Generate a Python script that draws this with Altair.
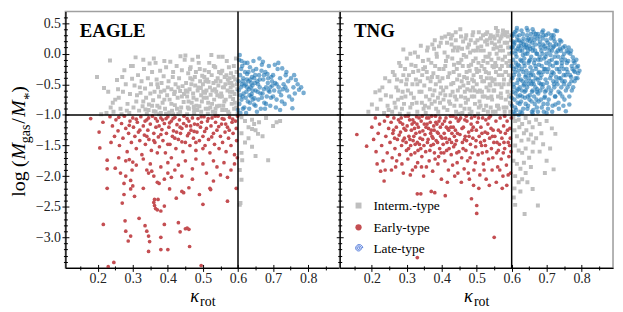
import altair as alt
import pandas as pd

# ---------------- values (kappa_rot, log Mgas/M*) ----------------
eagle_interm = [
    (0.198, -0.38), (0.218, -0.56), (0.23, -0.62), (0.235, -0.11), (0.237, -0.88), (0.225, -0.97), (0.245, -0.95),
    (0.25, -0.75), (0.243, -0.8), (0.21, -0.99),
    (0.255, -0.43), (0.27, -0.38), (0.26, -0.72), (0.265, -0.9), (0.272, -0.62), (0.28, -0.5), (0.285, -0.82),
    (0.29, -0.97), (0.258, -0.58), (0.276, -0.27), (0.292, -0.66), (0.298, -0.41), (0.283, -0.93), (0.295, -0.2),
    (0.268, -0.99),
    (0.3, -0.2), (0.308, -0.06), (0.33, -0.1), (0.305, -0.52), (0.31, -0.78), (0.315, -0.35), (0.318, -0.93),
    (0.322, -0.64), (0.325, -0.45), (0.328, -0.86), (0.332, -0.25), (0.335, -0.57), (0.338, -0.72), (0.34, -0.98),
    (0.343, -0.4), (0.346, -0.83), (0.348, -0.16), (0.312, -0.68), (0.336, -0.91), (0.302, -0.88),
    (0.352, -0.5), (0.355, -0.3), (0.358, -0.76), (0.36, -0.94), (0.362, -0.62), (0.365, -0.15), (0.368, -0.42),
    (0.37, -0.85), (0.372, -0.55), (0.375, -0.7), (0.378, -0.28), (0.38, -0.97), (0.382, -0.48), (0.385, -0.8),
    (0.388, -0.37), (0.39, -0.6), (0.392, -0.9), (0.395, -0.22), (0.398, -0.68), (0.36, -0.08), (0.376, -0.88),
    (0.39, -0.12),
    (0.402, -0.45), (0.405, -0.75), (0.407, -0.13), (0.41, -0.58), (0.412, -0.93), (0.415, -0.3), (0.418, -0.66),
    (0.42, -0.84), (0.422, -0.5), (0.425, -0.2), (0.428, -0.72), (0.43, -0.98), (0.432, -0.4), (0.435, -0.61),
    (0.438, -0.88), (0.44, -0.27), (0.442, -0.53), (0.445, -0.79), (0.448, -0.1), (0.414, -0.38), (0.426, -0.9),
    (0.436, -0.04), (0.446, -0.66), (0.404, -0.96),
    (0.45, -0.03), (0.47, -0.1), (0.452, -0.48), (0.455, -0.7), (0.458, -0.32), (0.46, -0.9), (0.462, -0.58),
    (0.465, -0.22), (0.468, -0.8), (0.47, -0.42), (0.472, -0.65), (0.475, -0.97), (0.478, -0.52), (0.48, -0.3),
    (0.482, -0.75), (0.485, -0.6), (0.488, -0.15), (0.49, -0.86), (0.492, -0.45), (0.495, -0.68), (0.498, -0.36),
    (0.456, -0.62), (0.464, -0.4), (0.474, -0.87), (0.484, -0.92), (0.494, -0.56), (0.459, -0.78), (0.486, -0.05),
    (0.5, -0.5), (0.502, -0.72), (0.505, -0.27), (0.508, -0.9), (0.51, -0.6), (0.512, -0.42), (0.515, -0.8),
    (0.518, -0.15), (0.52, -0.55), (0.522, -0.67), (0.525, -0.35), (0.528, -0.95), (0.53, -0.48), (0.532, -0.75),
    (0.535, -0.22), (0.538, -0.62), (0.54, -0.86), (0.542, -0.4), (0.545, -0.05), (0.548, -0.7), (0.504, -0.38),
    (0.514, -0.98), (0.524, -0.02), (0.534, -0.58), (0.544, -0.52), (0.506, -0.64), (0.526, -0.82), (0.546, -0.3),
    (0.516, -0.46), (0.536, -0.9),
    (0.55, -0.45), (0.552, -0.65), (0.555, -0.28), (0.558, -0.85), (0.56, -0.55), (0.562, -0.38), (0.565, -0.75),
    (0.568, -0.12), (0.57, -0.6), (0.572, -0.95), (0.575, -0.48), (0.578, -0.7), (0.58, -0.32), (0.582, -0.82),
    (0.585, -0.52), (0.588, -0.2), (0.59, -0.66), (0.592, -0.42), (0.595, -0.88), (0.598, -0.58), (0.556, -0.05),
    (0.566, -0.92), (0.576, -0.4), (0.586, -0.74), (0.596, -0.3), (0.554, -0.7), (0.564, -0.5), (0.574, -0.22),
    (0.584, -0.62), (0.594, -0.08), (0.599, -0.98), (0.589, -0.9), (0.579, -0.55),
    (0.451, -0.6), (0.457, -0.88), (0.463, -0.25), (0.467, -0.5), (0.473, -0.72), (0.477, -0.38), (0.481, -0.85),
    (0.487, -0.55), (0.491, -0.25), (0.497, -0.78), (0.501, -0.62), (0.507, -0.45), (0.511, -0.72), (0.517, -0.3),
    (0.521, -0.88), (0.527, -0.6), (0.531, -0.2), (0.537, -0.45), (0.541, -0.68), (0.547, -0.85), (0.551, -0.32),
    (0.557, -0.55), (0.561, -0.78), (0.567, -0.35), (0.571, -0.42), (0.577, -0.62), (0.581, -0.48), (0.587, -0.38),
    (0.591, -0.8), (0.597, -0.5), (0.42, -0.62), (0.43, -0.55), (0.44, -0.7), (0.41, -0.82), (0.4, -0.55),
    (0.39, -0.75), (0.38, -0.62), (0.37, -0.5), (0.35, -0.65), (0.33, -0.78), (0.32, -0.55), (0.345, -0.92),
    (0.355, -0.85), (0.365, -0.95), (0.375, -0.99), (0.395, -0.98), (0.415, -0.99), (0.435, -0.95), (0.455, -0.99),
    (0.475, -0.92), (0.495, -0.95), (0.515, -0.9), (0.535, -0.97), (0.555, -0.92), (0.575, -0.98),
    # below the gas cut, above the kappa cut
    (0.61, -1.04), (0.62, -1.1), (0.64, -1.08), (0.66, -1.12), (0.68, -1.05), (0.63, -1.2), (0.65, -1.25),
    (0.61, -1.3), (0.7, -1.18), (0.62, -1.45), (0.64, -1.52), (0.61, -1.62), (0.65, -1.67), (0.686, -1.74),
    (0.612, -1.74), (0.63, -1.38), (0.605, -1.9), (0.61, -2.06), (0.605, -2.47), (0.607, -2.44), (0.67, -1.35),
    (0.72, -1.1), (0.646, -1.15), (0.71, -1.12), (0.64, -1.23), (0.657, -1.31),
]

eagle_early = [
    (0.18, -1.06), (0.204, -1.28), (0.206, -1.54), (0.215, -1.12),
    (0.235, -1.03), (0.242, -1.18), (0.248, -1.35), (0.238, -1.45), (0.252, -1.08), (0.258, -1.26), (0.262, -1.5),
    (0.268, -1.14), (0.272, -1.38), (0.276, -1.02), (0.28, -1.22), (0.284, -1.6), (0.288, -1.3), (0.292, -1.1),
    (0.296, -1.45), (0.3, -1.05),
    (0.302, -1.2), (0.306, -1.35), (0.31, -1.55), (0.313, -1.12), (0.316, -1.28), (0.32, -1.42), (0.323, -1.03),
    (0.326, -1.65), (0.33, -1.18), (0.333, -1.33), (0.336, -1.48), (0.34, -1.08), (0.343, -1.25), (0.346, -1.4),
    (0.35, -1.15), (0.353, -1.58), (0.356, -1.02), (0.36, -1.3), (0.363, -1.45), (0.366, -1.2), (0.37, -1.1),
    (0.373, -1.36), (0.376, -1.52), (0.38, -1.05), (0.383, -1.24), (0.386, -1.42), (0.39, -1.14), (0.393, -1.62),
    (0.396, -1.3), (0.4, -1.03),
    (0.403, -1.2), (0.406, -1.48), (0.41, -1.1), (0.413, -1.35), (0.416, -1.26), (0.42, -1.04), (0.423, -1.55),
    (0.426, -1.16), (0.43, -1.4), (0.433, -1.08), (0.436, -1.3), (0.44, -1.22), (0.443, -1.6), (0.446, -1.02),
    (0.45, -1.45), (0.453, -1.18), (0.456, -1.34), (0.46, -1.1), (0.463, -1.5), (0.466, -1.25), (0.47, -1.05),
    (0.473, -1.38), (0.476, -1.15), (0.48, -1.58), (0.483, -1.28), (0.486, -1.06), (0.49, -1.42), (0.493, -1.2),
    (0.496, -1.12), (0.5, -1.35),
    (0.503, -1.03), (0.506, -1.5), (0.51, -1.22), (0.513, -1.1), (0.516, -1.4), (0.52, -1.62), (0.523, -1.18),
    (0.526, -1.05), (0.53, -1.3), (0.533, -1.48), (0.536, -1.12), (0.54, -1.25), (0.543, -1.02), (0.546, -1.55),
    (0.55, -1.35), (0.553, -1.15), (0.556, -1.45), (0.56, -1.07), (0.563, -1.28), (0.566, -1.6), (0.57, -1.2),
    (0.573, -1.38), (0.576, -1.04), (0.58, -1.5), (0.583, -1.12), (0.586, -1.3), (0.59, -1.65), (0.593, -1.1),
    (0.596, -1.42), (0.599, -1.02),
    (0.26, -1.04), (0.29, -1.17), (0.31, -1.07), (0.335, -1.1), (0.345, -1.05), (0.365, -1.06), (0.375, -1.18),
    (0.385, -1.08), (0.395, -1.06), (0.405, -1.13), (0.415, -1.06), (0.425, -1.28), (0.435, -1.2), (0.445, -1.14),
    (0.455, -1.06), (0.465, -1.18), (0.475, -1.27), (0.485, -1.16), (0.495, -1.03), (0.505, -1.27), (0.515, -1.06),
    (0.525, -1.36), (0.535, -1.02), (0.545, -1.19), (0.555, -1.06), (0.565, -1.15), (0.575, -1.25), (0.585, -1.07),
    (0.595, -1.22), (0.32, -1.25), (0.34, -1.35), (0.36, -1.42), (0.38, -1.32), (0.4, -1.48), (0.42, -1.38),
    (0.44, -1.44), (0.46, -1.3), (0.48, -1.45), (0.5, -1.55), (0.37, -1.62), (0.41, -1.7), (0.33, -1.72),
    (0.227, -1.74), (0.227, -1.88), (0.25, -1.87), (0.227, -2.2), (0.28, -1.75), (0.29, -1.73), (0.3, -1.77),
    (0.298, -1.9), (0.275, -2.12), (0.294, -2.21), (0.294, -2.07), (0.305, -2.33), (0.3, -2.16), (0.33, -2.2),
    (0.34, -1.9), (0.345, -1.95), (0.354, -1.92), (0.37, -2.1), (0.375, -2.12), (0.39, -2.05), (0.405, -2.21),
    (0.424, -2.36), (0.44, -2.25), (0.445, -2.27), (0.46, -2.19), (0.49, -2.3), (0.52, -2.2), (0.522, -2.22),
    (0.595, -2.2), (0.57, -2.41), (0.5, -2.46),
    (0.31, -1.82), (0.35, -1.8), (0.38, -1.85), (0.4, -1.78), (0.42, -1.9), (0.43, -1.82), (0.45, -1.75),
    (0.47, -1.88), (0.48, -1.72), (0.5, -1.8), (0.51, -1.95), (0.53, -1.75), (0.54, -1.85), (0.55, -1.98),
    (0.56, -1.78), (0.58, -1.9), (0.59, -1.8), (0.598, -1.7), (0.36, -2.0), (0.41, -2.02), (0.44, -2.0),
    (0.47, -2.05), (0.53, -2.08), (0.57, -2.02), (0.4, -1.95), (0.26, -1.7), (0.265, -1.95), (0.28, -2.0),
    (0.216, -2.79), (0.27, -2.44), (0.275, -2.3), (0.278, -2.73), (0.28, -2.9), (0.287, -3.06), (0.294, -2.98),
    (0.23, -3.48), (0.246, -3.41), (0.318, -2.69), (0.335, -2.81), (0.34, -2.9), (0.345, -2.98), (0.348, -3.07),
    (0.345, -3.23), (0.36, -2.43), (0.362, -2.48), (0.365, -2.53), (0.37, -2.55), (0.362, -2.38), (0.372, -2.38),
    (0.38, -2.57), (0.39, -2.49), (0.39, -2.79), (0.38, -3.0), (0.38, -3.2), (0.4, -3.2), (0.43, -2.76),
    (0.435, -2.91), (0.45, -2.86), (0.455, -2.85), (0.46, -2.87), (0.462, -3.15), (0.495, -3.46),
]

eagle_late = [
    (0.603, -0.1), (0.605, -0.02), (0.606, -0.35), (0.608, -0.55), (0.61, -0.75), (0.612, -0.2), (0.614, -0.45),
    (0.616, -0.65), (0.618, -0.88), (0.62, -0.3), (0.602, -0.6), (0.604, -0.82), (0.607, -0.97), (0.611, -0.5),
    (0.615, -0.4), (0.619, -0.15), (0.613, -0.7), (0.609, -0.25),
    (0.622, -0.5), (0.624, -0.62), (0.626, -0.33), (0.628, -0.78), (0.63, -0.45), (0.632, -0.9), (0.634, -0.22),
    (0.636, -0.55), (0.638, -0.7), (0.64, -0.38), (0.642, -0.6), (0.644, -0.12), (0.646, -0.83), (0.648, -0.48),
    (0.623, -0.97), (0.627, -0.15), (0.631, -0.58), (0.635, -0.42), (0.639, -0.66), (0.643, -0.28), (0.647, -0.73),
    (0.625, -0.42), (0.633, -0.68), (0.641, -0.52), (0.649, -0.35),
    (0.65, -0.6), (0.652, -0.25), (0.655, -0.45), (0.658, -0.75), (0.66, -0.35), (0.662, -0.55), (0.665, -0.9),
    (0.668, -0.18), (0.67, -0.65), (0.672, -0.42), (0.675, -0.8), (0.678, -0.3), (0.68, -0.55), (0.682, -0.7),
    (0.685, -0.48), (0.688, -0.2), (0.69, -0.62), (0.692, -0.85), (0.695, -0.38), (0.698, -0.52), (0.654, -0.95),
    (0.664, -0.65), (0.674, -0.58), (0.684, -0.33), (0.694, -0.72), (0.657, -0.5), (0.667, -0.28), (0.677, -0.9),
    (0.687, -0.6), (0.697, -0.45), (0.661, -0.08), (0.671, -0.13),
    (0.7, -0.35), (0.703, -0.6), (0.706, -0.48), (0.71, -0.75), (0.713, -0.25), (0.716, -0.55), (0.72, -0.4),
    (0.723, -0.68), (0.726, -0.24), (0.73, -0.5), (0.733, -0.82), (0.736, -0.35), (0.74, -0.6), (0.743, -0.45),
    (0.746, -0.7), (0.72, -0.92), (0.708, -0.88), (0.715, -0.15), (0.728, -0.58), (0.738, -0.3), (0.705, -0.18),
    (0.751, -0.4), (0.755, -0.89), (0.758, -0.55), (0.762, -0.65), (0.765, -0.43), (0.77, -0.5), (0.774, -0.59),
    (0.787, -0.64), (0.78, -0.55), (0.76, -0.35), (0.754, -0.75),
    (0.602, -0.45), (0.606, -0.68), (0.61, -0.12), (0.614, -0.9), (0.618, -0.52), (0.622, -0.72), (0.626, -0.55),
    (0.63, -0.3), (0.634, -0.8), (0.638, -0.48), (0.642, -0.75), (0.646, -0.4), (0.65, -0.85), (0.656, -0.62),
    (0.662, -0.42), (0.668, -0.72), (0.674, -0.35), (0.68, -0.82), (0.686, -0.4), (0.692, -0.55), (0.7, -0.7),
    (0.71, -0.5), (0.718, -0.62), (0.725, -0.78), (0.735, -0.55), (0.6, -0.92),
]

tng_interm = [
    (0.2, -0.83), (0.21, -0.63), (0.19, -0.95), (0.215, -0.9), (0.225, -0.75), (0.23, -0.55), (0.235, -0.97),
    (0.24, -0.68), (0.245, -0.85), (0.25, -0.45), (0.222, -0.6), (0.238, -0.4), (0.248, -0.92),
    (0.255, -0.7), (0.26, -0.3), (0.265, -0.35), (0.268, -0.88), (0.27, -0.55), (0.275, -0.75), (0.278, -0.15),
    (0.28, -0.98), (0.284, -0.45), (0.288, -0.62), (0.29, 0.07), (0.292, -0.82), (0.295, -0.25), (0.298, -0.5),
    (0.258, -0.95), (0.272, -0.42), (0.282, -0.2), (0.286, -0.9), (0.296, -0.7),
    (0.3, -0.08), (0.303, -0.6), (0.306, -0.35), (0.31, -0.88), (0.313, -0.18), (0.316, -0.5), (0.32, -0.72),
    (0.323, 0.02), (0.326, -0.42), (0.33, -0.95), (0.333, -0.28), (0.336, -0.62), (0.34, 0.13), (0.343, -0.8),
    (0.346, -0.12), (0.35, -0.52), (0.305, -0.98), (0.318, -0.3), (0.328, -0.8), (0.338, -0.45), (0.348, -0.9),
    (0.312, -0.65), (0.332, -0.05), (0.344, -0.35),
    (0.352, -0.22), (0.355, -0.7), (0.358, 0.05), (0.36, -0.4), (0.363, -0.88), (0.366, -0.58), (0.37, -0.15),
    (0.373, 0.15), (0.376, -0.32), (0.38, -0.78), (0.383, -0.5), (0.386, -0.05), (0.39, -0.95), (0.393, -0.25),
    (0.396, -0.65), (0.4, 0.26), (0.354, -0.97), (0.362, -0.1), (0.368, -0.45), (0.374, -0.68), (0.378, 0.08),
    (0.384, -0.9), (0.388, -0.38), (0.392, 0.12), (0.398, -0.55), (0.357, -0.3), (0.371, -0.82), (0.381, -0.2),
    (0.395, -0.8),
    (0.402, -0.4), (0.405, -0.75), (0.408, 0.02), (0.41, -0.2), (0.413, -0.55), (0.416, -0.92), (0.42, 0.32),
    (0.422, -0.32), (0.425, -0.68), (0.428, 0.15), (0.43, -0.08), (0.433, -0.48), (0.436, -0.85), (0.44, 0.22),
    (0.443, -0.25), (0.446, -0.6), (0.449, -0.98), (0.404, -0.6), (0.412, -0.12), (0.418, -0.38), (0.424, -0.82),
    (0.432, 0.05), (0.438, -0.7), (0.444, -0.42), (0.448, 0.1), (0.406, -0.88), (0.415, 0.18), (0.427, -0.5),
    (0.435, -0.18), (0.441, -0.95), (0.447, -0.15),
    (0.45, -0.35), (0.453, 0.4), (0.455, -0.7), (0.458, 0.08), (0.46, -0.2), (0.462, -0.52), (0.465, -0.9),
    (0.468, 0.25), (0.47, -0.05), (0.472, -0.4), (0.475, -0.75), (0.478, 0.15), (0.48, -0.28), (0.482, -0.6),
    (0.485, -0.95), (0.488, 0.3), (0.49, -0.12), (0.492, -0.45), (0.495, -0.82), (0.498, 0.05), (0.452, -0.55),
    (0.456, -0.1), (0.461, 0.2), (0.466, -0.62), (0.471, -0.3), (0.476, -0.48), (0.481, 0.02), (0.486, -0.7),
    (0.491, -0.35), (0.496, 0.18), (0.454, -0.85), (0.464, -0.38), (0.474, 0.1), (0.484, -0.18), (0.494, -0.6),
    (0.459, -0.97), (0.469, -0.8), (0.479, -0.9), (0.489, -0.55), (0.499, -0.25),
    (0.5, -0.5), (0.502, 0.22), (0.505, -0.15), (0.508, -0.78), (0.51, 0.05), (0.512, -0.38), (0.515, -0.62),
    (0.518, 0.3), (0.52, -0.92), (0.522, -0.25), (0.525, -0.05), (0.528, -0.55), (0.53, 0.15), (0.532, -0.72),
    (0.535, -0.32), (0.538, 0.25), (0.54, -0.88), (0.542, -0.1), (0.545, -0.45), (0.548, 0.08), (0.504, -0.98),
    (0.507, -0.28), (0.513, 0.12), (0.517, -0.7), (0.521, -0.45), (0.524, 0.2), (0.527, -0.85), (0.531, -0.15),
    (0.534, -0.6), (0.537, 0.0), (0.541, -0.4), (0.544, -0.75), (0.547, 0.28), (0.549, -0.22), (0.503, -0.62),
    (0.511, -0.85), (0.519, -0.12), (0.529, -0.4), (0.539, -0.52), (0.546, -0.95), (0.506, 0.35), (0.526, 0.32),
    (0.543, 0.18),
    (0.55, -0.6), (0.552, 0.15), (0.555, -0.3), (0.558, -0.85), (0.56, 0.37), (0.562, -0.08), (0.565, -0.5),
    (0.568, 0.25), (0.57, -0.72), (0.572, -0.2), (0.575, 0.05), (0.578, -0.42), (0.58, -0.95), (0.582, 0.3),
    (0.585, -0.15), (0.588, -0.62), (0.59, 0.1), (0.592, -0.35), (0.595, -0.8), (0.598, 0.22), (0.551, -0.42),
    (0.554, -0.95), (0.557, 0.0), (0.561, -0.7), (0.564, 0.2), (0.567, -0.25), (0.571, -0.55), (0.574, 0.32),
    (0.577, -0.88), (0.581, -0.05), (0.584, -0.3), (0.587, 0.18), (0.591, -0.5), (0.594, -0.12), (0.597, -0.68),
    (0.599, -0.4), (0.553, -0.15), (0.563, -0.9), (0.573, -0.35), (0.583, -0.75), (0.593, 0.0), (0.596, -0.95),
    (0.559, 0.3), (0.569, 0.12), (0.579, 0.35), (0.589, 0.28),
    (0.405, -0.25), (0.41, -0.68), (0.417, -0.05), (0.421, -0.78), (0.426, 0.25), (0.431, -0.62), (0.434, -0.3),
    (0.437, 0.1), (0.442, -0.75), (0.445, 0.05), (0.451, -0.15), (0.455, 0.28), (0.457, -0.45), (0.463, -0.02),
    (0.467, -0.72), (0.47, 0.3), (0.473, -0.58), (0.477, -0.2), (0.48, -0.98), (0.483, 0.22), (0.487, -0.42),
    (0.49, 0.05), (0.493, -0.7), (0.497, -0.08), (0.501, -0.3), (0.503, 0.1), (0.506, -0.88), (0.509, -0.6),
    (0.512, 0.25), (0.514, -0.2), (0.516, -0.45), (0.52, 0.05), (0.523, -0.7), (0.526, -0.3), (0.529, 0.22),
    (0.532, -0.95), (0.534, -0.05), (0.537, -0.5), (0.54, 0.3), (0.542, -0.7), (0.545, -0.2), (0.548, -0.6),
    (0.551, 0.25), (0.554, -0.5), (0.556, -0.2), (0.558, 0.1), (0.561, -0.85), (0.563, -0.35), (0.566, 0.05),
    (0.569, -0.65), (0.571, 0.28), (0.574, -0.1), (0.577, -0.5), (0.58, 0.18), (0.582, -0.3), (0.585, -0.88),
    (0.587, 0.35), (0.59, -0.2), (0.592, -0.7), (0.595, 0.1), (0.597, -0.45), (0.599, -0.15), (0.599, 0.3),
    (0.598, -0.82), (0.365, -0.75), (0.372, -0.38), (0.379, -0.6), (0.385, 0.0), (0.389, -0.72), (0.394, -0.45),
    (0.397, 0.18), (0.342, -0.62), (0.347, -0.25), (0.352, -0.85), (0.33, -0.5), (0.325, -0.2), (0.315, -0.82),
    (0.3, -0.42), (0.29, -0.35), (0.275, -0.6), (0.265, -0.8), (0.285, -0.72), (0.31, 0.0), (0.36, 0.1),
    (0.38, 0.22), (0.41, 0.28), (0.43, 0.3), (0.44, 0.35), (0.49, 0.35), (0.53, 0.35), (0.555, 0.42), (0.575, 0.38),
    # below the gas cut, above the kappa cut
    (0.605, -1.04), (0.61, -1.1), (0.62, -1.08), (0.63, -1.15), (0.64, -1.05), (0.65, -1.12), (0.66, -1.2),
    (0.67, -1.08), (0.68, -1.15), (0.7, -1.1), (0.725, -1.31), (0.715, -1.22), (0.608, -1.25), (0.615, -1.35),
    (0.622, -1.2), (0.628, -1.42), (0.635, -1.3), (0.642, -1.25), (0.648, -1.4), (0.655, -1.32), (0.662, -1.45),
    (0.67, -1.38), (0.685, -1.3), (0.69, -1.48), (0.61, -1.5), (0.62, -1.58), (0.63, -1.62), (0.64, -1.55),
    (0.65, -1.7), (0.66, -1.6), (0.605, -1.75), (0.615, -1.8), (0.625, -1.88), (0.635, -1.78), (0.64, -1.95),
    (0.655, -1.85), (0.7, -1.75), (0.72, -1.89), (0.61, -2.0), (0.62, -2.1), (0.63, -2.05), (0.608, -2.2),
    (0.625, -2.25), (0.66, -2.21), (0.61, -2.47), (0.675, -2.48), (0.637, -2.62), (0.606, -2.35), (0.645, -2.1),
    (0.68, -1.6), (0.71, -1.55), (0.695, -1.95),
]

tng_early = [
    (0.157, -1.32), (0.185, -1.51), (0.225, -1.92), (0.235, -2.08), (0.33, -2.29), (0.34, -2.29), (0.37, -2.25),
    (0.38, -2.27), (0.41, -2.32), (0.485, -2.37), (0.5, -2.48), (0.5, -2.61), (0.55, -3.0), (0.33, -3.33),
    (0.2, -1.2), (0.205, -1.4), (0.21, -1.05), (0.212, -1.6), (0.218, -1.3), (0.222, -1.15), (0.228, -1.5),
    (0.232, -1.75), (0.236, -1.1), (0.24, -1.35), (0.244, -1.62), (0.248, -1.22), (0.215, -1.8), (0.238, -1.9),
    (0.245, -1.02),
    (0.252, -1.45), (0.255, -1.12), (0.258, -1.7), (0.26, -1.3), (0.263, -1.05), (0.266, -1.55), (0.268, -1.85),
    (0.27, -1.2), (0.273, -1.4), (0.276, -1.08), (0.279, -1.65), (0.282, -1.28), (0.285, -1.5), (0.288, -1.15),
    (0.29, -1.95), (0.293, -1.38), (0.296, -1.02), (0.299, -1.58), (0.256, -1.9), (0.262, -1.25), (0.271, -1.75),
    (0.278, -1.33), (0.286, -1.8), (0.292, -1.22), (0.298, -1.45), (0.265, -1.38), (0.284, -1.05),
    (0.301, -1.18), (0.303, -1.72), (0.306, -1.35), (0.308, -1.08), (0.311, -1.5), (0.313, -1.25), (0.316, -1.9),
    (0.318, -1.42), (0.321, -1.12), (0.323, -1.62), (0.326, -1.3), (0.328, -1.03), (0.331, -1.78), (0.333, -1.2),
    (0.336, -1.48), (0.338, -1.38), (0.341, -1.1), (0.343, -1.68), (0.346, -1.26), (0.348, -2.0), (0.305, -1.55),
    (0.31, -1.98), (0.315, -1.15), (0.32, -1.35), (0.325, -1.85), (0.33, -1.45), (0.335, -1.05), (0.34, -1.55),
    (0.345, -1.4), (0.35, -1.15), (0.312, -1.65), (0.322, -1.22), (0.332, -1.58), (0.342, -1.85),
    (0.352, -1.32), (0.354, -1.6), (0.357, -1.05), (0.359, -1.45), (0.362, -1.22), (0.364, -1.75), (0.367, -1.12),
    (0.369, -1.5), (0.372, -1.35), (0.374, -1.92), (0.377, -1.18), (0.379, -1.62), (0.382, -1.02), (0.384, -1.42),
    (0.387, -1.28), (0.389, -1.8), (0.392, -1.1), (0.394, -1.55), (0.397, -1.35), (0.399, -2.05), (0.356, -1.85),
    (0.361, -1.4), (0.366, -1.58), (0.371, -1.02), (0.376, -1.48), (0.381, -1.72), (0.386, -1.15), (0.391, -1.68),
    (0.396, -1.2), (0.358, -1.15), (0.368, -1.3), (0.378, -1.25), (0.388, -1.45), (0.398, -1.62),
    (0.402, -1.15), (0.404, -1.48), (0.407, -1.3), (0.409, -1.75), (0.412, -1.05), (0.414, -1.58), (0.417, -1.22),
    (0.419, -1.9), (0.422, -1.4), (0.424, -1.12), (0.427, -1.65), (0.429, -1.3), (0.432, -1.02), (0.434, -1.52),
    (0.437, -2.0), (0.439, -1.25), (0.442, -1.42), (0.444, -1.78), (0.447, -1.1), (0.449, -1.6), (0.406, -1.62),
    (0.411, -1.38), (0.416, -2.1), (0.421, -1.55), (0.426, -1.2), (0.431, -1.82), (0.436, -1.35), (0.441, -1.05),
    (0.446, -1.95), (0.413, -1.2), (0.428, -1.45), (0.443, -1.62),
    (0.452, -1.32), (0.454, -1.05), (0.457, -1.7), (0.459, -1.45), (0.462, -1.2), (0.464, -1.88), (0.467, -1.35),
    (0.469, -1.58), (0.472, -1.1), (0.474, -1.75), (0.477, -1.28), (0.479, -2.05), (0.482, -1.48), (0.484, -1.15),
    (0.487, -1.62), (0.489, -1.38), (0.492, -1.9), (0.494, -1.02), (0.497, -1.52), (0.499, -1.25), (0.456, -2.1),
    (0.461, -1.55), (0.466, -1.08), (0.471, -1.42), (0.476, -1.95), (0.481, -1.7), (0.486, -1.25), (0.491, -2.15),
    (0.496, -1.78),
    (0.502, -1.12), (0.504, -1.65), (0.507, -1.35), (0.509, -1.98), (0.512, -1.2), (0.514, -1.5), (0.517, -1.05),
    (0.519, -1.8), (0.522, -1.42), (0.524, -1.28), (0.527, -2.05), (0.529, -1.6), (0.532, -1.15), (0.534, -1.72),
    (0.537, -1.38), (0.539, -1.02), (0.542, -1.55), (0.544, -1.9), (0.547, -1.25), (0.549, -1.45), (0.506, -2.2),
    (0.516, -1.62), (0.526, -1.08), (0.536, -2.15), (0.546, -1.7), (0.511, -1.45), (0.521, -1.9), (0.531, -1.3),
    (0.541, -1.22),
    (0.552, -1.35), (0.555, -1.1), (0.557, -1.62), (0.56, -1.85), (0.562, -1.25), (0.565, -1.48), (0.567, -1.05),
    (0.57, -1.72), (0.572, -1.38), (0.575, -2.0), (0.577, -1.18), (0.58, -1.55), (0.582, -1.3), (0.585, -1.82),
    (0.587, -1.1), (0.59, -1.45), (0.592, -1.68), (0.595, -1.22), (0.597, -1.95), (0.599, -1.05), (0.556, -2.1),
    (0.566, -1.9), (0.576, -1.62), (0.586, -2.15), (0.596, -1.38), (0.562, -1.58), (0.58, -1.02), (0.598, -1.6),
    (0.573, -2.2), (0.59, -1.98),
    (0.281, -1.12), (0.289, -1.42), (0.297, -1.25), (0.304, -1.02), (0.309, -1.4), (0.317, -1.08), (0.324, -1.48),
    (0.329, -1.15), (0.337, -1.28), (0.344, -1.02), (0.349, -1.5), (0.355, -1.2), (0.363, -1.05), (0.37, -1.25),
    (0.375, -1.38), (0.383, -1.12), (0.39, -1.3), (0.395, -1.05), (0.401, -1.38), (0.408, -1.1), (0.415, -1.45),
    (0.42, -1.25), (0.425, -1.02), (0.433, -1.2), (0.438, -1.48), (0.445, -1.3), (0.45, -1.08), (0.458, -1.22),
    (0.465, -1.4), (0.47, -1.02), (0.478, -1.35), (0.485, -1.05), (0.49, -1.2), (0.498, -1.42), (0.505, -1.05),
    (0.515, -1.3), (0.525, -1.5), (0.535, -1.05), (0.545, -1.35), (0.558, -1.45), (0.568, -1.28), (0.578, -1.45),
    (0.588, -1.25), (0.594, -1.5),
]

tng_late = [
    (0.602, 0.29), (0.604, -0.1), (0.605, -0.5), (0.607, 0.15), (0.608, -0.75), (0.61, -0.3), (0.612, 0.05),
    (0.613, -0.92), (0.615, -0.6), (0.616, 0.22), (0.618, -0.18), (0.619, -0.42), (0.601, -0.85), (0.603, 0.1),
    (0.606, -0.25), (0.609, 0.35), (0.611, -0.65), (0.614, -0.05), (0.617, -0.8), (0.62, 0.12), (0.602, -0.4),
    (0.607, -0.55), (0.612, -0.15), (0.618, -0.7), (0.604, 0.2), (0.609, -0.98), (0.615, 0.28),
    (0.621, -0.35), (0.622, 0.3), (0.623, -0.55), (0.625, -0.1), (0.626, 0.18), (0.627, -0.78), (0.629, -0.25),
    (0.63, 0.05), (0.631, -0.45), (0.633, -0.9), (0.634, 0.25), (0.635, -0.15), (0.637, -0.62), (0.638, 0.1),
    (0.639, -0.38), (0.624, -0.68), (0.628, 0.38), (0.632, -0.02), (0.636, -0.5), (0.64, -0.82), (0.622, -0.2),
    (0.627, 0.12), (0.633, -0.3), (0.638, -0.72), (0.625, -0.95), (0.631, 0.2), (0.636, -0.08), (0.629, -0.6),
    (0.641, 0.15), (0.643, 0.42), (0.642, -0.28), (0.644, -0.55), (0.645, 0.0), (0.647, -0.85), (0.648, 0.25),
    (0.649, -0.4), (0.65, -0.12), (0.652, -0.68), (0.653, 0.08), (0.654, -0.22), (0.655, 0.32), (0.657, -0.5),
    (0.658, -0.95), (0.659, 0.18), (0.646, -0.7), (0.651, -0.32), (0.656, -0.05), (0.66, -0.6), (0.644, 0.3),
    (0.648, -0.15), (0.652, 0.2), (0.657, -0.78), (0.642, -0.45), (0.654, -0.45), (0.659, -0.28), (0.647, 0.05),
    (0.661, 0.1), (0.662, -0.35), (0.664, -0.7), (0.665, 0.22), (0.666, -0.1), (0.668, -0.55), (0.669, 0.32),
    (0.67, -0.25), (0.672, -0.88), (0.673, 0.0), (0.674, -0.42), (0.675, 0.32), (0.676, -0.65), (0.678, -0.18),
    (0.679, 0.15), (0.663, -0.5), (0.667, 0.05), (0.671, -0.75), (0.677, -0.32), (0.68, -0.05), (0.662, -0.92),
    (0.666, 0.28), (0.673, -0.58), (0.679, -0.48), (0.668, -0.2),
    (0.681, 0.2), (0.682, -0.4), (0.684, -0.75), (0.685, 0.05), (0.686, -0.2), (0.688, -0.55), (0.689, 0.25),
    (0.69, -0.3), (0.692, -0.95), (0.693, -0.08), (0.694, 0.12), (0.695, -0.62), (0.697, -0.42), (0.698, 0.3),
    (0.699, -0.15), (0.683, -0.1), (0.687, 0.35), (0.691, -0.82), (0.696, -0.25), (0.7, 0.0), (0.684, -0.5),
    (0.69, 0.15), (0.695, -0.7),
    (0.701, -0.48), (0.703, 0.18), (0.705, -0.25), (0.706, -0.75), (0.708, 0.05), (0.71, -0.4), (0.712, 0.25),
    (0.713, -0.6), (0.715, -0.1), (0.717, -0.85), (0.718, 0.1), (0.72, -0.32), (0.722, -0.55), (0.723, 0.2),
    (0.725, -0.83), (0.726, -0.15), (0.728, 0.02), (0.73, 0.37), (0.704, -0.9), (0.709, -0.18), (0.714, 0.3),
    (0.719, -0.45), (0.724, -0.7), (0.727, -0.38), (0.711, -0.02), (0.716, -0.3), (0.721, 0.12), (0.729, -0.25),
    (0.731, -0.5), (0.733, -0.05), (0.735, 0.15), (0.737, -0.3), (0.739, -0.65), (0.741, 0.05), (0.743, -0.2),
    (0.745, -0.45), (0.747, 0.1), (0.749, -0.35), (0.751, -0.75), (0.753, -0.1), (0.755, -0.6), (0.755, -0.94),
    (0.757, -0.25), (0.734, -0.8), (0.738, 0.22), (0.742, -0.55), (0.746, -0.05), (0.75, 0.0), (0.736, -0.4),
    (0.744, -0.15), (0.752, -0.45), (0.758, 0.05),
    (0.76, -0.3), (0.762, -0.12), (0.765, -0.5), (0.768, 0.0), (0.77, -0.38), (0.772, -0.2), (0.775, -0.06),
    (0.776, -0.55), (0.778, -0.28), (0.78, -0.15), (0.783, -0.4), (0.786, -0.22), (0.79, -0.32), (0.765, -0.7),
    (0.772, -0.6), (0.78, -0.45), (0.763, 0.1), (0.77, 0.05), (0.785, -0.1), (0.79, -0.2), (0.765, -0.83),
    (0.601, 0.02), (0.603, -0.62), (0.605, 0.32), (0.606, -0.35), (0.608, 0.18), (0.61, -0.88), (0.611, 0.0),
    (0.613, -0.22), (0.614, 0.38), (0.616, -0.48), (0.617, 0.08), (0.619, -0.58), (0.62, -0.28), (0.621, 0.22),
    (0.623, -0.82), (0.624, 0.05), (0.626, -0.42), (0.628, -0.12), (0.63, -0.7), (0.632, 0.32), (0.634, -0.52),
    (0.635, 0.15), (0.637, -0.2), (0.639, 0.0), (0.64, -0.6), (0.641, -0.35), (0.643, 0.1), (0.645, -0.9),
    (0.646, 0.38), (0.648, -0.5), (0.65, 0.12), (0.651, -0.75), (0.653, -0.1), (0.655, -0.35), (0.656, 0.25),
    (0.658, -0.62), (0.66, 0.05), (0.661, -0.45), (0.663, 0.35), (0.664, -0.15), (0.666, -0.82), (0.668, 0.15),
    (0.669, -0.4), (0.671, 0.0), (0.672, -0.62), (0.674, 0.25), (0.676, -0.1), (0.677, -0.78), (0.679, -0.3),
    (0.68, 0.28), (0.682, -0.6), (0.683, 0.1), (0.685, -0.35), (0.686, -0.88), (0.688, 0.0), (0.69, -0.5),
    (0.691, 0.3), (0.693, -0.25), (0.694, -0.72), (0.696, 0.08), (0.697, -0.05), (0.699, -0.6), (0.7, 0.22),
    (0.702, -0.3), (0.703, -0.82), (0.705, 0.1), (0.706, -0.55), (0.708, -0.12), (0.71, 0.15), (0.711, -0.65),
    (0.713, -0.35), (0.715, 0.05), (0.716, -0.95), (0.718, -0.2), (0.72, 0.25), (0.721, -0.5), (0.723, -0.05),
    (0.725, -0.7), (0.727, 0.15), (0.728, -0.45), (0.73, -0.15), (0.732, 0.05), (0.734, -0.62), (0.736, -0.25),
    (0.738, 0.08), (0.74, -0.4), (0.742, -0.1), (0.745, -0.7), (0.748, -0.25), (0.75, -0.5), (0.752, 0.12),
    (0.755, -0.35), (0.758, -0.15), (0.76, -0.55), (0.762, 0.02), (0.767, -0.35), (0.771, -0.45), (0.774, -0.25),
    (0.777, -0.12), (0.781, -0.3), (0.788, -0.4), (0.794, -0.28), (0.62, -1.0), (0.66, -0.98), (0.7, -0.97),
    (0.615, 0.42), (0.66, 0.4), (0.69, 0.38), (0.705, 0.33), (0.72, 0.3), (0.6, -0.72), (0.6, -0.2), (0.6, 0.1),
    (0.605, -0.95), (0.63, -0.97), (0.645, 0.22), (0.675, -0.95), (0.735, -0.9), (0.742, 0.2), (0.748, -0.85),
    (0.725, 0.38),
]

PANEL_NAMES = ["EAGLE", "TNG"]
LEGEND_LABELS = ["Interm.-type", "Early-type", "Late-type"]
KAPPA_CUT = [0.6]
LOGR_CUT = [-1.0]
KAPPA_DOMAIN = [0.108, 0.89]
LOGR_DOMAIN = [-3.5, 0.69]
X_MAJOR = [0.2, 0.3, 0.4, 0.5, 0.6, 0.7, 0.8]
X_MINOR = [0.15, 0.25, 0.35, 0.45, 0.55, 0.65, 0.75, 0.85]
Y_MAJOR = [-3.0, -2.5, -2.0, -1.5, -1.0, -0.5, 0.0, 0.5]
Y_MINOR = [-3.4, -3.3, -3.2, -3.1, -2.9, -2.8, -2.7, -2.6, -2.4, -2.3, -2.2, -2.1, -1.9, -1.8, -1.7, -1.6,
           -1.4, -1.3, -1.2, -1.1, -0.9, -0.8, -0.7, -0.6, -0.4, -0.3, -0.2, -0.1, 0.1, 0.2, 0.3, 0.4, 0.6]

GRAY, RED, BLUE, ICON_BLUE = "#bfbfbf", "#c44e52", "#1f77b4", "#4a74d9"
SERIF = "Liberation Serif"
W_LEFT, W_RIGHT, H = 277, 276, 259
SPIRAL = ("M0,0 A0.15,0.15 0 0 1 0.3,0 A0.3,0.3 0 0 1 -0.3,0 A0.45,0.45 0 0 1 0.6,0 "
          "A0.6,0.6 0 0 1 -0.6,0 A0.75,0.75 0 0 1 0.9,0")


def txt(s, x, y, size, angle=0, style="normal", weight="normal", color="black", align="left"):
    return alt.Chart(pd.DataFrame({"t": [s]})).mark_text(
        align=align, baseline="alphabetic", font=SERIF, fontSize=size, fontStyle=style,
        fontWeight=weight, angle=angle, color=color,
    ).encode(text="t:N", x=alt.value(x), y=alt.value(y))


def xtitle(width):
    c = width / 2
    return [txt("κ", c - 12.5, H + 34, 18.5, style="italic"), txt("rot", c - 2.5, H + 38.5, 14)]


def ytitle():
    xb = -40.5
    return [
        txt("log", xb, 187, 20, angle=270),
        txt("(", xb, 157, 20, angle=270),
        txt("M", xb, 149.5, 20, angle=270, style="italic"),
        txt("gas", xb + 4.5, 133, 14, angle=270),
        txt("/", xb, 113.5, 20, angle=270),
        txt("M", xb, 106.2, 20, angle=270, style="italic"),
        txt("*", xb + 9, 89.5, 15, angle=270),
        txt(")", xb, 82, 20, angle=270),
    ]


def legend():
    rows = [196, 218, 239]
    out = [
        alt.Chart(pd.DataFrame({"t": [0]})).mark_point(shape="square", filled=True, size=36, color=GRAY, opacity=1)
        .encode(x=alt.value(19), y=alt.value(rows[0])),
        alt.Chart(pd.DataFrame({"t": [0]})).mark_point(shape="circle", filled=True, size=40, color=RED, opacity=1)
        .encode(x=alt.value(19), y=alt.value(rows[1])),
        alt.Chart(pd.DataFrame({"t": [0]})).mark_point(shape=SPIRAL, filled=False, size=90, color=ICON_BLUE,
                                                       strokeWidth=1.0, opacity=1)
        .encode(x=alt.value(19), y=alt.value(rows[2])),
    ]
    for lab, r in zip(LEGEND_LABELS, rows):
        out.append(txt(lab, 34, r + 4.7, 13.5))
    return out


def panel(interm, early, late, name, width, show_ylabels, extra):
    xs = alt.Scale(domain=KAPPA_DOMAIN, nice=False, zero=False)
    ys = alt.Scale(domain=LOGR_DOMAIN, nice=False, zero=False)
    common = dict(grid=False, title=None, zindex=1, tickColor="black", tickWidth=1)
    x_major_out = alt.Axis(orient="bottom", values=X_MAJOR, tickSize=3.5, format=".1f", labelFont=SERIF,
                           labelFontSize=14, labelColor="#222222", labelBaseline="alphabetic", labelPadding=11,
                           labelFlush=False, labelOverlap=False, domain=True, domainColor="black",
                           domainWidth=1.3, **common)
    x_minor_out = alt.Axis(orient="bottom", values=X_MINOR, tickSize=2, labels=False, domain=False, **common)
    x_major_in = alt.Axis(orient="top", offset=-H, values=X_MAJOR, tickSize=3.5, labels=False, domain=False,
                          **common)
    x_minor_in = alt.Axis(orient="top", offset=-H, values=X_MINOR, tickSize=2, labels=False, domain=False,
                          **common)
    y_major_out = alt.Axis(orient="left", values=Y_MAJOR, tickSize=3.5, labels=show_ylabels, format=".1f",
                           labelFont=SERIF, labelFontSize=14, labelColor="#222222", labelPadding=1.5,
                           labelFlush=False, labelOverlap=False, domain=True, domainColor="black",
                           domainWidth=1.3, **common)
    y_minor_out = alt.Axis(orient="left", values=Y_MINOR, tickSize=2, labels=False, domain=False, **common)
    y_major_in = alt.Axis(orient="right", offset=-width, values=Y_MAJOR, tickSize=3.5, labels=False,
                          domain=False, **common)
    y_minor_in = alt.Axis(orient="right", offset=-width, values=Y_MINOR, tickSize=2, labels=False,
                          domain=False, **common)

    def df(pts):
        return pd.DataFrame(pts, columns=["kappa", "logr"])

    gray = alt.Chart(df(interm)).mark_square(size=16, color=GRAY, opacity=1, clip=True).encode(
        x=alt.X("kappa:Q", scale=xs, axis=x_major_out), y=alt.Y("logr:Q", scale=ys, axis=y_major_out))
    red = alt.Chart(df(early)).mark_circle(size=14, color=RED, opacity=1, clip=True).encode(
        x=alt.X("kappa:Q", scale=xs, axis=x_minor_out), y=alt.Y("logr:Q", scale=ys, axis=y_minor_out))
    blue = alt.Chart(df(late)).mark_circle(size=21, color=BLUE, opacity=0.6, clip=True).encode(
        x=alt.X("kappa:Q", scale=xs, axis=x_major_in), y=alt.Y("logr:Q", scale=ys, axis=y_major_in))
    vline = alt.Chart(pd.DataFrame({"kappa": KAPPA_CUT})).mark_rule(color="black", strokeWidth=1.5).encode(
        x=alt.X("kappa:Q", scale=xs, axis=x_minor_in))
    hline = alt.Chart(pd.DataFrame({"logr": LOGR_CUT})).mark_rule(color="black", strokeWidth=1.5).encode(
        y=alt.Y("logr:Q", scale=ys, axis=y_minor_in))
    title = txt(name, 14.5, 26, 19, weight="bold")
    return alt.layer(gray, red, blue, vline, hline, title, *xtitle(width), *extra).resolve_axis(
        x="independent", y="independent").properties(width=width, height=H)


left = panel(eagle_interm, eagle_early, eagle_late, PANEL_NAMES[0], W_LEFT, True, ytitle())
right = panel(tng_interm, tng_early, tng_late, PANEL_NAMES[1], W_RIGHT, False, legend())

chart = alt.hconcat(left, right, spacing=0, bounds="flush").properties(
    padding={"left": 0, "top": 0, "right": 0, "bottom": 0}
).configure_view(stroke="#a0a0a0", strokeWidth=1.6)

chart.save("out.html", embed_options={"renderer": "svg", "actions": False})
